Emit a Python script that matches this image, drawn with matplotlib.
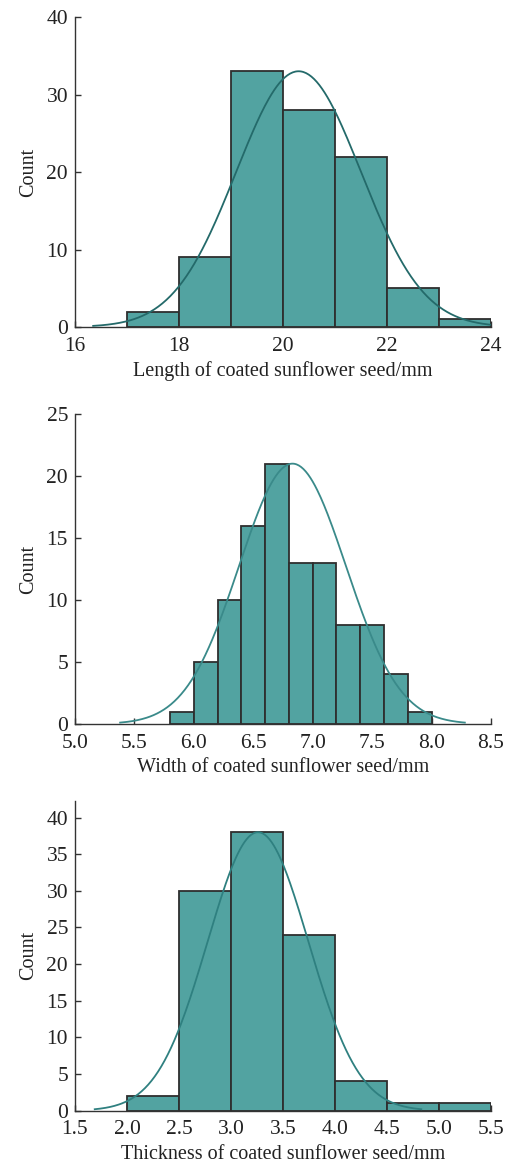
import numpy as np
import matplotlib
matplotlib.use("Agg")
import matplotlib.pyplot as plt

plt.rcParams['font.family'] = ['Liberation Serif', 'DejaVu Serif']
plt.rcParams['font.size'] = 14.5

# === データ（ヒストグラムのビンと度数） ===
length_edges = [17, 18, 19, 20, 21, 22, 23, 24]
length_counts = [2, 9, 33, 28, 22, 5, 1]

width_edges = [5.8, 6.0, 6.2, 6.4, 6.6, 6.8, 7.0, 7.2, 7.4, 7.6, 7.8, 8.0]
width_counts = [1, 5, 10, 16, 21, 13, 13, 8, 8, 4, 1]

thick_edges = [2.0, 2.5, 3.0, 3.5, 4.0, 4.5, 5.0, 5.5]
thick_counts = [2, 30, 38, 24, 4, 1, 1]

# 正規分布フィット曲線のパラメータ（平均, 標準偏差, 描画範囲）
length_fit = (20.3, 1.2, 16.35, 24.0)
width_fit = (6.83, 0.45, 5.38, 8.28)
thick_fit = (3.26, 0.485, 1.69, 4.83)

bar_color = '#52a3a1'
edge_color = '#2e2e2e'

panels = [
    dict(edges=length_edges, counts=length_counts, fit=length_fit, curve='#246a6a',
         xlim=(16, 24), xticks=[16, 18, 20, 22, 24], xfmt='{:.0f}',
         ylim=(0, 40), yticks=[0, 10, 20, 30, 40],
         xlabel='Length of coated sunflower seed/mm',
         rect=[0.1473, 0.7193, 0.8173, 0.2661]),
    dict(edges=width_edges, counts=width_counts, fit=width_fit, curve='#3a8a8a',
         xlim=(5.0, 8.5), xticks=[5.0, 5.5, 6.0, 6.5, 7.0, 7.5, 8.0, 8.5], xfmt='{:.1f}',
         ylim=(0, 25), yticks=[0, 5, 10, 15, 20, 25],
         xlabel='Width of coated sunflower seed/mm',
         rect=[0.1473, 0.3785, 0.8173, 0.2661]),
    dict(edges=thick_edges, counts=thick_counts, fit=thick_fit, curve='#2f8080',
         xlim=(1.5, 5.5), xticks=[1.5, 2.0, 2.5, 3.0, 3.5, 4.0, 4.5, 5.0, 5.5], xfmt='{:.1f}',
         ylim=(0, 42.3), yticks=[0, 5, 10, 15, 20, 25, 30, 35, 40],
         xlabel='Thickness of coated sunflower seed/mm',
         rect=[0.1473, 0.0466, 0.8173, 0.2661]),
]

fig = plt.figure(figsize=(5.09, 11.65), dpi=100)

for p in panels:
    ax = fig.add_axes(p['rect'])
    edges = np.array(p['edges'])
    counts = np.array(p['counts'])
    ax.bar(edges[:-1], counts, width=np.diff(edges), align='edge',
           color=bar_color, edgecolor=edge_color, linewidth=1.3, zorder=2)

    # 正規分布曲線（ピーク高さ = 最大度数）
    mu, sd, x0, x1 = p['fit']
    xs = np.linspace(x0, x1, 300)
    ys = counts.max() * np.exp(-0.5 * ((xs - mu) / sd) ** 2)
    ax.plot(xs, ys, color=p['curve'], linewidth=1.3, zorder=3)

    ax.set_xlim(*p['xlim'])
    ax.set_ylim(*p['ylim'])
    ax.set_xticks(p['xticks'])
    ax.set_xticklabels([p['xfmt'].format(v) for v in p['xticks']])
    ax.set_yticks(p['yticks'])
    ax.spines['top'].set_visible(False)
    ax.spines['right'].set_visible(False)
    for s in ['left', 'bottom']:
        ax.spines[s].set_color('#333333')
        ax.spines[s].set_linewidth(1.0)
    ax.tick_params(direction='in', length=4, width=1.0, color='#333333',
                   labelcolor='#222222', labelsize=15.5)
    ax.tick_params(axis='x', pad=7)
    ax.tick_params(axis='y', pad=5)
    ax.set_xlabel(p['xlabel'], labelpad=4, color='#222222')
    ax.set_ylabel('Count', labelpad=6, color='#222222')

fig.savefig('out.png', dpi=100)
